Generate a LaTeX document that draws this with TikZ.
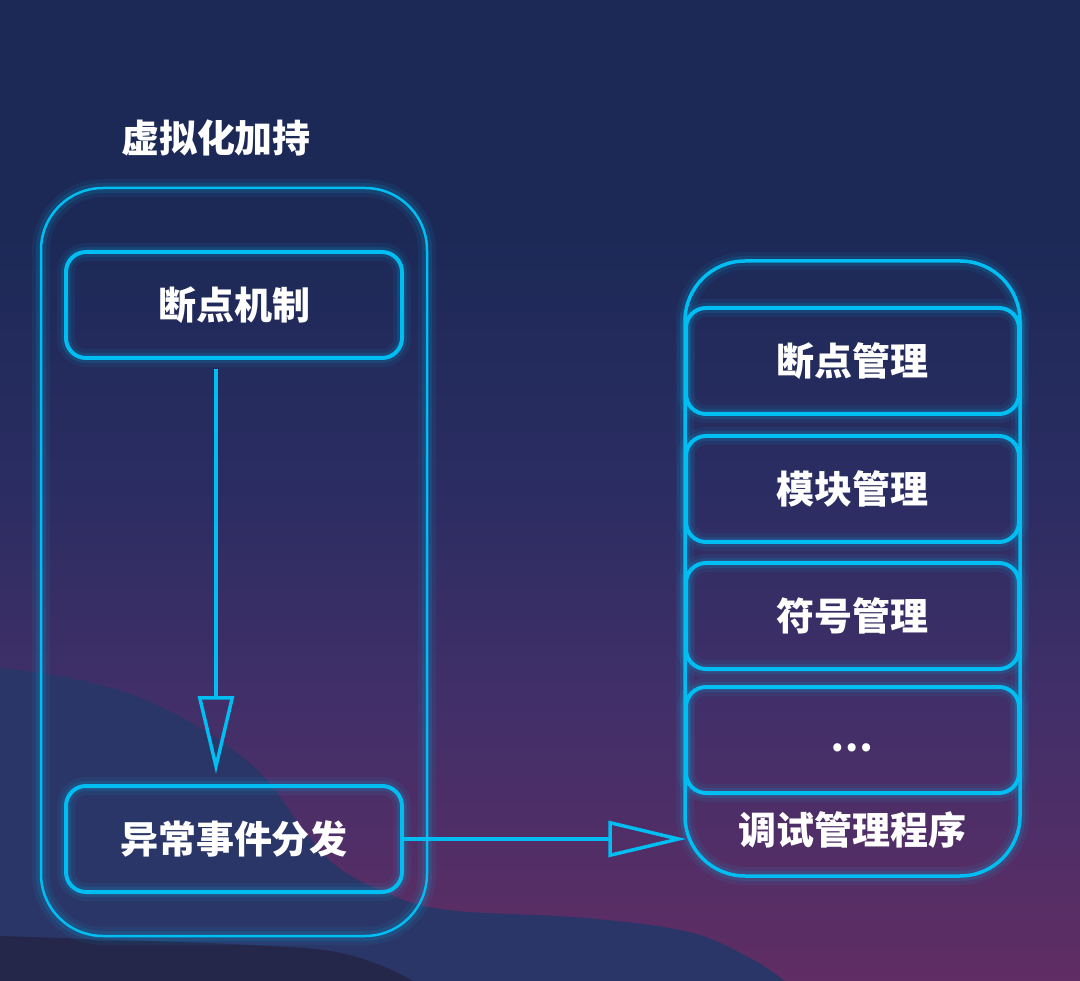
\documentclass[tikz,border=0pt]{standalone}
\usepackage{fontspec}
\newfontfamily\cjk{Noto Sans CJK SC}
\usetikzlibrary{arrows.meta}
\definecolor{navy}{HTML}{1C2957}
\definecolor{midc}{HTML}{2B2D62}
\definecolor{purpm}{HTML}{422F69}
\definecolor{purpb}{HTML}{602D64}
\definecolor{wavec}{HTML}{2A3668}
\definecolor{darkc}{HTML}{24264A}
\definecolor{cyanc}{HTML}{00BDF2}
\pgfdeclareverticalshading{bgshade}{100bp}{color(0bp)=(purpb); color(25bp)=(purpb); color(39bp)=(purpm); color(50bp)=(midc); color(63bp)=(navy); color(100bp)=(navy)}
\begin{document}
\begin{tikzpicture}[x=1pt,y=-1pt,
  glowline/.style={preaction={draw=cyanc, draw opacity=0.07, line width=18pt},
                   preaction={draw=cyanc, draw opacity=0.13, line width=10pt}},
  txt/.style={text=white, font=\cjk\bfseries\fontsize{38pt}{42pt}\selectfont},
  cbox/.style={draw=cyanc, line width=4pt, rounded corners=20pt, glowline,
               minimum width=336pt, minimum height=106pt, inner sep=0pt, txt},
  rbox/.style={cbox, minimum width=333pt},
  outer/.style={draw=cyanc, rounded corners=#1, glowline, inner sep=0pt},
  conn/.style={draw=cyanc, line width=3.5pt},
  opentri/.style={-{Triangle[open, length=78pt, width=36pt, line width=3.5pt]}}
]
\useasboundingbox (0,0) rectangle (1080,981);
% background
\shade[shading=bgshade] (0,0) rectangle (1080,981);
\fill[wavec] plot[smooth, tension=0.6] coordinates {(0,668) (70,678) (138,697) (207,732) (262,775) (300,825) (335,865) (386,893) (448,910) (585,918) (689,932) (750,958) (785,981)} -- (0,981) -- cycle;
\fill[darkc] plot[smooth, tension=0.6] coordinates {(0,936) (120,940) (250,945) (330,951) (380,965) (413,981)} -- (0,981) -- cycle;
% title
\node[txt] (title) at (216,138) {虚拟化加持};
% left container
\node[outer=62pt, line width=2.5pt, minimum width=386pt, minimum height=748pt] (virt) at (234,562) {};
\node[cbox] (brk) at (234,305) {断点机制};
\node[cbox] (exc) at (234,839) {异常事件分发};
% right container
\node[outer=60pt, line width=3.5pt, minimum width=335pt, minimum height=615pt] (dbg) at (852.5,568.5) {};
\node[rbox] (bpm) at (852.5,361) {断点管理};
\node[rbox] (mod) at (852.5,489) {模块管理};
\node[rbox] (sym) at (852.5,616) {符号管理};
\node[rbox] (etc) at (852.5,740) {};
\node[txt] (dots) at (852,748) {…};
\node[txt] (dbgl) at (852,830) {调试管理程序};
% connectors
\draw[conn, opentri] ([xshift=-18pt,yshift=-9pt]brk.south) -- ([xshift=-18pt,yshift=10pt]exc.north);
\draw[conn, opentri] (exc.east) -- ([xshift=3pt]exc.east -| dbg.west);
\end{tikzpicture}
\end{document}
